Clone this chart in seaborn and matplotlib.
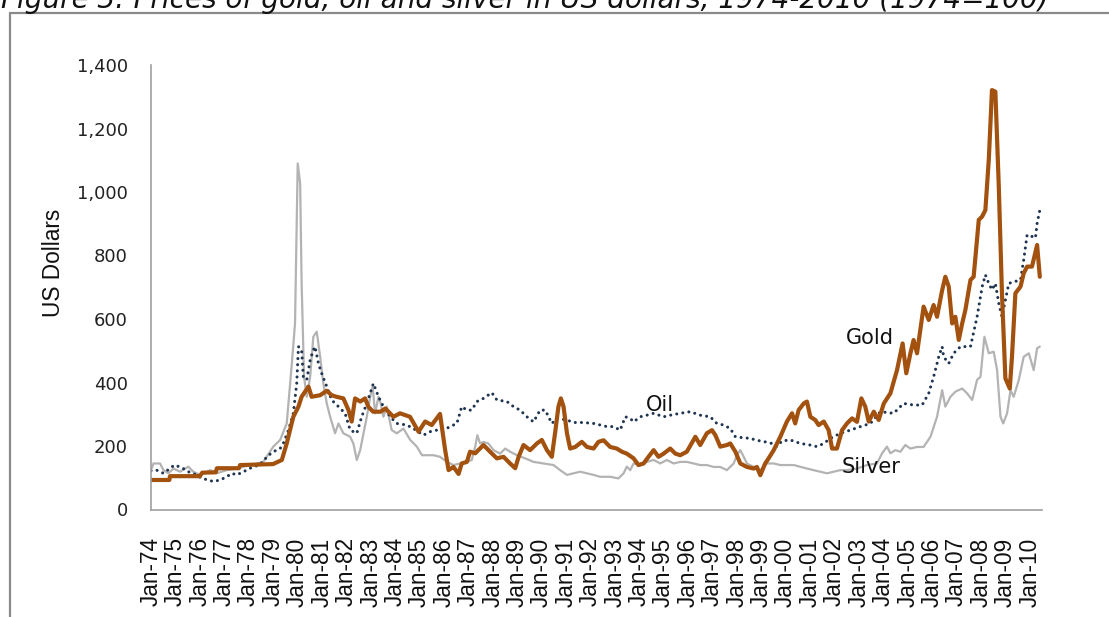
import numpy as np
import pandas as pd
import matplotlib
matplotlib.use("Agg")
import matplotlib.pyplot as plt
from matplotlib.lines import Line2D
import seaborn as sns

# ---------------- data ----------------
gold_t = [1974.00, 1974.75, 1974.78, 1976.00, 1976.10, 1976.65, 1976.70, 1977.60, 1977.65, 1979.00,
          1979.36, 1979.56, 1979.83, 1980.04, 1980.17, 1980.45, 1980.58, 1980.93, 1981.20, 1981.40,
          1981.60, 1981.88, 1982.09, 1982.22, 1982.36, 1982.57, 1982.77, 1982.90, 1983.10, 1983.40,
          1983.60, 1983.93, 1984.20, 1984.61, 1984.96, 1985.23, 1985.50, 1985.84, 1986.05, 1986.19,
          1986.39, 1986.60, 1986.73, 1986.94, 1987.07, 1987.28, 1987.62, 1987.89, 1988.17, 1988.44,
          1988.71, 1988.92, 1989.06, 1989.26, 1989.53, 1989.81, 1990.01, 1990.22, 1990.42, 1990.56,
          1990.69, 1990.79, 1990.90, 1991.04, 1991.17, 1991.38, 1991.65, 1991.86, 1992.13, 1992.33,
          1992.54, 1992.81, 1993.08, 1993.29, 1993.49, 1993.77, 1993.97, 1994.18, 1994.38, 1994.59,
          1994.79, 1995.00, 1995.27, 1995.48, 1995.68, 1995.95, 1996.30, 1996.50, 1996.77, 1996.98,
          1997.12, 1997.32, 1997.59, 1997.73, 1997.94, 1998.14, 1998.41, 1998.69, 1998.82, 1998.96,
          1999.16, 1999.30, 1999.51, 1999.78, 2000.05, 2000.26, 2000.39, 2000.53, 2000.74, 2000.87,
          2001.01, 2001.21, 2001.35, 2001.56, 2001.76, 2001.90, 2002.10, 2002.31, 2002.51, 2002.72,
          2002.92, 2003.10, 2003.26, 2003.40, 2003.61, 2003.81, 2004.02, 2004.29, 2004.56, 2004.79,
          2004.94, 2005.11, 2005.24, 2005.38, 2005.65, 2005.86, 2006.06, 2006.20, 2006.41, 2006.54,
          2006.68, 2006.82, 2006.95, 2007.09, 2007.23, 2007.36, 2007.57, 2007.70, 2007.91, 2008.05,
          2008.18, 2008.32, 2008.45, 2008.59, 2008.73, 2008.86, 2009.00, 2009.18, 2009.27, 2009.41,
          2009.62, 2009.75, 2009.89, 2010.09, 2010.30, 2010.41]
gold_v = [93, 93, 105, 105, 116, 117, 130, 130, 140, 143,
          156, 208, 292, 324, 355, 387, 355, 360, 374, 360,
          355, 350, 313, 277, 350, 340, 350, 324, 308, 308,
          318, 292, 303, 292, 245, 277, 266, 301, 187, 124,
          134, 112, 145, 150, 182, 177, 203, 182, 161, 166,
          145, 130, 166, 203, 187, 208, 219, 187, 166, 245,
          324, 350, 324, 240, 192, 197, 213, 197, 192, 213,
          218, 197, 192, 182, 176, 161, 140, 145, 166, 187,
          166, 176, 192, 176, 171, 182, 229, 203, 240, 250,
          234, 198, 203, 208, 182, 145, 134, 129, 134, 108,
          145, 161, 187, 229, 277, 303, 271, 313, 334, 340,
          292, 282, 266, 277, 250, 192, 192, 250, 271, 287,
          276, 350, 324, 277, 308, 282, 334, 366, 439, 523,
          429, 492, 534, 492, 639, 597, 644, 607, 691, 733,
          702, 586, 607, 534, 586, 628, 723, 733, 912, 923,
          943, 1101, 1321, 1316, 1017, 681, 413, 381, 481, 681,
          702, 744, 765, 765, 833, 733]

oil_t = [1974.00, 1974.23, 1974.51, 1974.96, 1975.26, 1975.53, 1975.87, 1976.08, 1976.35, 1976.55,
         1976.83, 1977.10, 1977.31, 1977.51, 1977.79, 1978.06, 1978.26, 1978.60, 1978.74, 1979.01,
         1979.29, 1979.42, 1979.63, 1979.83, 1979.97, 1980.04, 1980.17, 1980.24, 1980.38, 1980.52,
         1980.65, 1980.72, 1980.86, 1980.99, 1981.20, 1981.40, 1981.68, 1981.95, 1982.16, 1982.43,
         1982.63, 1982.84, 1983.11, 1983.32, 1983.52, 1983.80, 1984.07, 1984.48, 1984.75, 1985.16,
         1985.43, 1985.71, 1985.98, 1986.25, 1986.53, 1986.73, 1986.94, 1987.14, 1987.35, 1987.62,
         1987.96, 1988.17, 1988.58, 1988.85, 1989.12, 1989.40, 1989.67, 1989.94, 1990.15, 1990.42,
         1990.63, 1991.04, 1991.31, 1991.72, 1992.13, 1992.40, 1992.68, 1992.95, 1993.22, 1993.43,
         1993.63, 1993.77, 1994.04, 1994.31, 1994.59, 1995.00, 1995.27, 1995.68, 1996.09, 1996.50,
         1996.91, 1997.18, 1997.46, 1997.73, 1997.94, 1998.14, 1998.55, 1998.82, 1999.16, 1999.44,
         1999.64, 1999.85, 2000.19, 2000.60, 2001.01, 2001.28, 2001.56, 2001.83, 2002.24, 2002.65,
         2003.06, 2003.47, 2003.88, 2004.42, 2004.83, 2005.24, 2005.59, 2005.86, 2006.06, 2006.27,
         2006.41, 2006.47, 2006.68, 2006.88, 2007.16, 2007.57, 2007.84, 2008.05, 2008.18, 2008.32,
         2008.45, 2008.59, 2008.73, 2008.86, 2009.00, 2009.14, 2009.34, 2009.62, 2009.75, 2009.89,
         2010.09, 2010.23, 2010.30, 2010.44]
oil_v = [122, 124, 114, 140, 132, 119, 109, 98, 93, 88,
         93, 103, 114, 109, 119, 130, 135, 150, 166, 182,
         192, 208, 250, 303, 397, 513, 502, 418, 408, 471,
         502, 513, 460, 429, 387, 345, 324, 303, 250, 240,
         292, 334, 397, 355, 324, 292, 271, 266, 255, 234,
         245, 250, 250, 261, 271, 324, 313, 313, 340, 350,
         368, 345, 340, 324, 313, 292, 276, 313, 313, 271,
         287, 282, 274, 274, 271, 266, 261, 261, 250, 292,
         287, 276, 292, 297, 303, 292, 297, 303, 308, 297,
         292, 271, 266, 255, 229, 227, 224, 218, 213, 208,
         198, 216, 219, 208, 203, 198, 208, 224, 240, 250,
         261, 271, 308, 303, 334, 329, 329, 366, 418, 481,
         513, 481, 460, 492, 513, 513, 607, 702, 739, 712,
         692, 712, 649, 607, 660, 712, 717, 723, 786, 865,
         860, 855, 901, 954]

silver_t = [1974.00, 1974.10, 1974.37, 1974.51, 1974.71, 1974.92, 1975.19, 1975.53, 1975.73, 1976.01,
            1976.42, 1976.69, 1977.10, 1977.51, 1977.92, 1978.60, 1979.01, 1979.29, 1979.56, 1979.77,
            1979.90, 1980.01, 1980.11, 1980.17, 1980.27, 1980.38, 1980.52, 1980.65, 1980.79, 1980.93,
            1981.06, 1981.20, 1981.34, 1981.54, 1981.68, 1981.88, 1982.16, 1982.29, 1982.43, 1982.57,
            1982.84, 1982.98, 1983.08, 1983.18, 1983.32, 1983.41, 1983.52, 1983.66, 1983.86, 1984.07,
            1984.34, 1984.62, 1984.89, 1985.10, 1985.30, 1985.57, 1985.84, 1986.12, 1986.39, 1986.66,
            1986.94, 1987.14, 1987.28, 1987.37, 1987.48, 1987.62, 1987.82, 1988.03, 1988.30, 1988.51,
            1988.71, 1988.99, 1989.33, 1989.67, 1990.08, 1990.49, 1990.76, 1991.04, 1991.31, 1991.58,
            1991.86, 1992.13, 1992.40, 1992.81, 1993.15, 1993.36, 1993.49, 1993.63, 1993.77, 1994.04,
            1994.31, 1994.59, 1994.86, 1995.13, 1995.41, 1995.68, 1995.95, 1996.23, 1996.50, 1996.77,
            1997.05, 1997.32, 1997.59, 1997.87, 1998.00, 1998.14, 1998.28, 1998.41, 1998.69, 1998.96,
            1999.23, 1999.51, 1999.78, 2000.33, 2000.87, 2001.42, 2001.69, 2001.97, 2002.24, 2002.51,
            2002.92, 2003.33, 2003.74, 2003.95, 2004.15, 2004.29, 2004.49, 2004.70, 2004.90, 2005.11,
            2005.38, 2005.65, 2005.93, 2006.20, 2006.41, 2006.54, 2006.75, 2006.95, 2007.23, 2007.43,
            2007.64, 2007.84, 2007.98, 2008.14, 2008.32, 2008.52, 2008.66, 2008.80, 2008.91, 2009.07,
            2009.21, 2009.34, 2009.55, 2009.75, 2009.96, 2010.16, 2010.30, 2010.41]
silver_v = [124, 145, 145, 124, 114, 129, 119, 135, 119, 109,
            124, 114, 124, 129, 137, 150, 198, 219, 271, 460,
            586, 1090, 1027, 712, 418, 355, 418, 544, 560, 481,
            397, 334, 292, 240, 271, 240, 229, 208, 156, 187,
            292, 355, 387, 303, 355, 334, 292, 324, 250, 240,
            255, 219, 198, 171, 171, 171, 166, 150, 140, 145,
            150, 156, 198, 234, 208, 213, 208, 187, 176, 192,
            182, 171, 161, 150, 145, 140, 124, 109, 114, 119,
            114, 109, 103, 103, 98, 114, 135, 124, 145, 140,
            150, 156, 145, 156, 145, 150, 150, 145, 140, 140,
            134, 134, 124, 145, 171, 187, 166, 145, 134, 124,
            145, 145, 140, 140, 129, 119, 114, 119, 124, 124,
            129, 140, 145, 177, 198, 177, 187, 182, 203, 192,
            197, 197, 229, 292, 376, 324, 355, 371, 381, 366,
            345, 408, 418, 544, 492, 497, 439, 292, 271, 303,
            376, 355, 408, 481, 492, 439, 508, 513]

year_labels = [f"Jan-{y % 100:02d}" for y in range(1974, 2011)]
y_ticks = [0, 200, 400, 600, 800, 1000, 1200, 1400]
series_names = ["Gold", "Oil", "Silver"]
title_text = "Figure 3: Prices of gold, oil and silver in US dollars, 1974-2010 (1974=100)"

# ---------------- figure ----------------
sns.set_theme(style="white")
plt.rcParams['font.family'] = ['DejaVu Sans']

W, H = 1109, 617
fig = plt.figure(figsize=(W / 100, H / 100), dpi=100, facecolor="white")

def fx(px):
    return px / W

def fy(py):
    return 1 - py / H

ax = fig.add_axes([fx(151), fy(509.5), fx(1042 - 151), (509.5 - 65) / H])
ax.set_facecolor("white")

gold_c = "#A3510E"
oil_c = "#1E3450"
silver_c = "#B3B3B3"

sns.lineplot(x=silver_t, y=silver_v, ax=ax, color=silver_c, lw=1.6, estimator=None, sort=False)
sns.lineplot(x=oil_t, y=oil_v, ax=ax, color=oil_c, lw=2.2, estimator=None, sort=False,
             linestyle=(0, (0.01, 2.0)), dash_capstyle="round")
sns.lineplot(x=gold_t, y=gold_v, ax=ax, color=gold_c, lw=3.0, estimator=None, sort=False,
             solid_joinstyle="round")

ax.set_xlim(1974, 2010.5)
ax.set_ylim(0, 1400)

# axes styling
for s in ["top", "right"]:
    ax.spines[s].set_visible(False)
for s in ["left", "bottom"]:
    ax.spines[s].set_color("#a0a0a0")
    ax.spines[s].set_linewidth(1.2)

xt = [1974 + 0.5 * k for k in range(74)]
xl = []
for k in range(74):
    xl.append(year_labels[k // 2] if k % 2 == 0 else "")
ax.set_xticks(xt)
ax.set_xticklabels(xl, rotation=90, fontsize=16.3, family="Liberation Sans", color="#111111")
ax.tick_params(axis="x", direction="inout", length=12, width=1.1, color="#a0a0a0", pad=14)

ax.set_yticks(y_ticks)
ax.set_yticklabels([f"{v:,}" for v in y_ticks], fontsize=13, family="DejaVu Sans", color="#222222")
ax.tick_params(axis="y", direction="inout", length=8.6, width=1.1, color="#a0a0a0", pad=12.5)
ax.set_xlabel("")
ax.set_ylabel("")
ax.grid(False)

fig.text(fx(53), fy(262.5), "US Dollars", rotation=90, ha="center", va="center",
         fontsize=16.3, family="Liberation Sans", color="#111111")

# series labels
ax.text(2003.45, 539, series_names[0], ha="center", va="center", fontsize=15, color="#111111")
ax.text(1994.86, 329, series_names[1], ha="center", va="center", fontsize=15, color="#111111")
ax.text(2003.5, 135, series_names[2], ha="center", va="center", fontsize=15, color="#111111")

# frame
fig.add_artist(Line2D([fx(9.5), fx(9.5)], [fy(12.5), fy(H + 5)], color="#8a8a8a", lw=1.6,
                      transform=fig.transFigure))
fig.add_artist(Line2D([fx(9.5), fx(W + 5)], [fy(12.5), fy(12.5)], color="#8a8a8a", lw=1.6,
                      transform=fig.transFigure))

# title (top part cut off as in the reference)
probe = fig.text(0, 0, title_text, fontsize=14, style="italic")
fig.canvas.draw()
wpx = probe.get_window_extent().width
probe.remove()
fs = 14 * (1050 / wpx)
fig.text(fx(1), fy(8), title_text, fontsize=fs, style="italic", ha="left", va="baseline",
         color="#111111")

fig.savefig("out.png", dpi=100, facecolor="white")
